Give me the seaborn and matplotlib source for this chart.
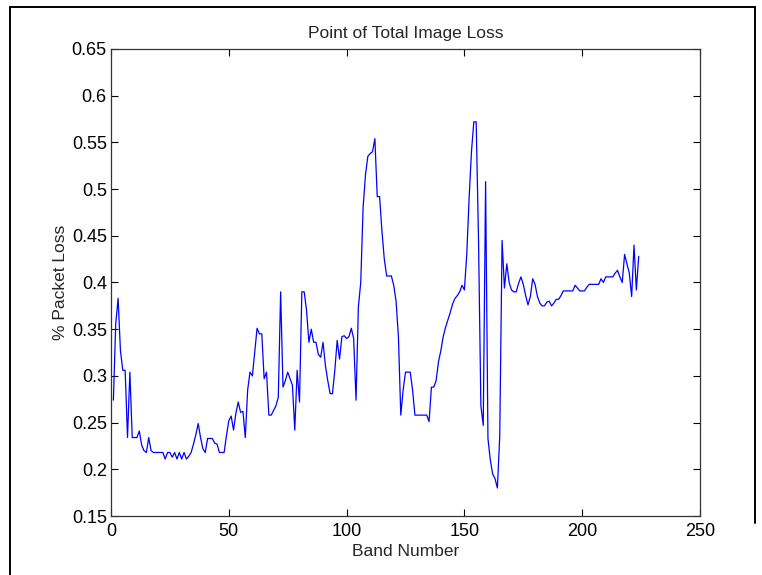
import numpy as np
import pandas as pd
import matplotlib
matplotlib.use("Agg")
import matplotlib.pyplot as plt
import seaborn as sns
from matplotlib.lines import Line2D

# Values, band 1..224
loss_1_50 = [0.274, 0.356, 0.383, 0.327, 0.306, 0.306, 0.234, 0.304, 0.234, 0.234,
             0.234, 0.241, 0.226, 0.220, 0.218, 0.234, 0.220, 0.218, 0.218, 0.218,
             0.218, 0.218, 0.211, 0.218, 0.218, 0.213, 0.218, 0.211, 0.218, 0.211,
             0.218, 0.211, 0.214, 0.218, 0.227, 0.237, 0.249, 0.234, 0.222, 0.218,
             0.233, 0.233, 0.233, 0.228, 0.227, 0.218, 0.218, 0.218, 0.236, 0.252]
loss_51_100 = [0.257, 0.242, 0.260, 0.272, 0.261, 0.262, 0.234, 0.285, 0.304, 0.300,
               0.326, 0.351, 0.345, 0.345, 0.297, 0.304, 0.258, 0.258, 0.263, 0.268,
               0.277, 0.390, 0.288, 0.295, 0.304, 0.297, 0.290, 0.242, 0.306, 0.272,
               0.390, 0.390, 0.370, 0.336, 0.350, 0.336, 0.336, 0.323, 0.320, 0.336,
               0.311, 0.295, 0.281, 0.281, 0.306, 0.338, 0.318, 0.342, 0.343, 0.340]
loss_101_150 = [0.342, 0.351, 0.340, 0.274, 0.374, 0.400, 0.480, 0.515, 0.535, 0.538,
                0.540, 0.554, 0.492, 0.492, 0.455, 0.425, 0.407, 0.407, 0.407, 0.397,
                0.380, 0.342, 0.258, 0.285, 0.304, 0.304, 0.304, 0.285, 0.258, 0.258,
                0.258, 0.258, 0.258, 0.258, 0.251, 0.288, 0.288, 0.295, 0.315, 0.327,
                0.342, 0.352, 0.360, 0.368, 0.377, 0.383, 0.386, 0.390, 0.397, 0.392]
loss_151_200 = [0.430, 0.490, 0.540, 0.572, 0.572, 0.445, 0.268, 0.247, 0.508, 0.233,
                0.210, 0.195, 0.190, 0.180, 0.235, 0.445, 0.394, 0.420, 0.400, 0.392,
                0.390, 0.390, 0.399, 0.406, 0.398, 0.386, 0.376, 0.385, 0.404, 0.398,
                0.385, 0.378, 0.375, 0.375, 0.379, 0.380, 0.375, 0.378, 0.382, 0.382,
                0.386, 0.391, 0.391, 0.391, 0.391, 0.391, 0.397, 0.394, 0.391, 0.391]
loss_201_224 = [0.391, 0.395, 0.398, 0.398, 0.398, 0.398, 0.398, 0.404, 0.400, 0.406,
                0.406, 0.406, 0.406, 0.410, 0.413, 0.406, 0.400, 0.430, 0.420, 0.410,
                0.385, 0.440, 0.392, 0.428]

loss = loss_1_50 + loss_51_100 + loss_101_150 + loss_151_200 + loss_201_224
bands = np.arange(1, len(loss) + 1)
df = pd.DataFrame({"band": bands, "loss": loss})

sns.set_style("ticks")
plt.rcParams["font.family"] = ["Liberation Sans", "DejaVu Sans"]

fig = plt.figure(figsize=(7.62, 5.75), dpi=100)
ax = fig.add_axes([0.1457, 0.1026, 0.7729, 0.8122])

sns.lineplot(data=df, x="band", y="loss", color="#0000ff", linewidth=0.9, ax=ax)

ax.set_xlim(0, 250)
ax.set_ylim(0.15, 0.65)
ax.set_xticks([0, 50, 100, 150, 200, 250])
ax.set_yticks(np.round(np.arange(0.15, 0.651, 0.05), 2))
ax.set_yticklabels(["0.15", "0.2", "0.25", "0.3", "0.35", "0.4", "0.45",
                    "0.5", "0.55", "0.6", "0.65"])
ax.tick_params(direction="in", length=5, width=0.8, labelsize=13, pad=3,
               top=True, right=True, colors="#000000")
ax.tick_params(axis="x", pad=5)
for s in ax.spines.values():
    s.set_visible(True)
    s.set_color("#333333")
    s.set_linewidth(0.9)

ax.set_title("Point of Total Image Loss", fontsize=12.5, pad=8)
ax.set_xlabel("Band Number", fontsize=12.5, labelpad=3)
ax.set_ylabel("% Packet Loss", fontsize=12.5, labelpad=3)

# window frame around the figure
fig.add_artist(Line2D([0.0131, 0.9908], [0.9878, 0.9878], color="black", lw=1.4,
                      transform=fig.transFigure))
fig.add_artist(Line2D([0.0131, 0.0131], [0.0, 0.9878], color="black", lw=1.4,
                      transform=fig.transFigure))
fig.add_artist(Line2D([0.9908, 0.9908], [0.09, 0.9878], color="black", lw=1.4,
                      transform=fig.transFigure))

fig.savefig("out.png", dpi=100)
